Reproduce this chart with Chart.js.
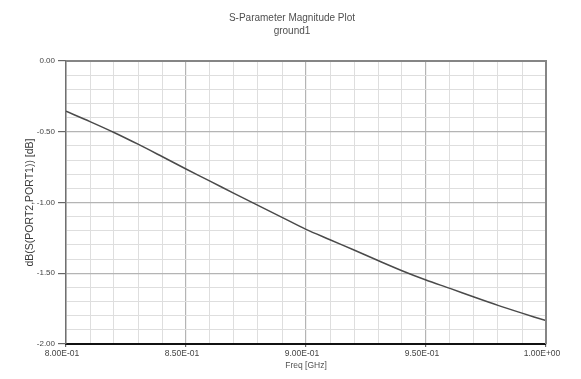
<!DOCTYPE html>
<html>
<head>
<meta charset="utf-8">
<script src="https://cdn.jsdelivr.net/npm/chart.js@4/dist/chart.umd.min.js"></script>
<style>
  html, body { margin: 0; padding: 0; background: #ffffff; }
  #wrap { width: 581px; height: 379px; }
</style>
</head>
<body>
<div id="wrap"><canvas id="c" width="581" height="379"></canvas></div>
<script>
// ---- Data ----
const titleLines = ['S-Parameter Magnitude Plot', 'ground1'];
const xAxisTitle = 'Freq [GHz]';
const yAxisTitle = 'dB(S(PORT2,PORT1)) [dB]';
const freqGHz = [0.80, 0.81, 0.82, 0.83, 0.84, 0.85, 0.86, 0.87, 0.88, 0.89, 0.90,
                 0.91, 0.92, 0.93, 0.94, 0.95, 0.96, 0.97, 0.98, 0.99, 1.00];
const s21dB = [-0.355, -0.428, -0.505, -0.588, -0.675, -0.763, -0.849, -0.935, -1.020, -1.105, -1.190,
               -1.263, -1.336, -1.410, -1.482, -1.548, -1.607, -1.668, -1.727, -1.782, -1.835];
const xMin = 0.80, xMax = 1.00, xStep = 0.01;
const yMin = -2.00, yMax = 0.00, yStep = 0.1;

function sci(v) {
  const s = v.toExponential(2).toUpperCase();
  const parts = s.split('E');
  const sign = parts[1][0] === '-' ? '-' : '+';
  const digits = parts[1].replace(/[+-]/, '').padStart(2, '0');
  return parts[0] + 'E' + sign + digits;
}
const isMajorX = v => Math.round(v * 100) % 5 === 0;
const isMajorY = v => Math.round(v * 10) % 5 === 0;
const FONT = 'Liberation Sans, Arial, sans-serif';

// frame on top/right and the two-line title (positioned like the reference)
const framePlugin = {
  id: 'frame',
  afterDatasetsDraw(chart) {
    const { ctx, chartArea: a } = chart;
    ctx.save();
    ctx.strokeStyle = '#858585';
    ctx.lineWidth = 2;
    ctx.beginPath();
    ctx.moveTo(a.left, a.top);
    ctx.lineTo(a.right, a.top);
    ctx.lineTo(a.right, a.bottom);
    ctx.stroke();
    ctx.restore();
  },
  afterDraw(chart) {
    const { ctx, chartArea: a } = chart;
    ctx.save();
    ctx.fillStyle = '#505050';
    ctx.font = '10px ' + FONT;
    ctx.textAlign = 'center';
    ctx.textBaseline = 'middle';
    const cx = (a.left + a.right) / 2 - 14;
    titleLines.forEach((t, i) => ctx.fillText(t, cx, 18 + i * 13));
    ctx.restore();
  }
};

const data = {
  datasets: [{
    data: freqGHz.map((f, i) => ({ x: f, y: s21dB[i] })),
    borderColor: '#4a4a4a',
    borderWidth: 1.5,
    pointRadius: 0,
    tension: 0.3,
    fill: false
  }]
};

new Chart(document.getElementById('c'), {
  type: 'line',
  data,
  plugins: [framePlugin],
  options: {
    responsive: false,
    animation: false,
    layout: { padding: { top: 61, right: 35, bottom: 0, left: 0 } },
    plugins: {
      legend: { display: false },
      tooltip: { enabled: false },
      title: { display: false }
    },
    scales: {
      x: {
        type: 'linear',
        min: xMin, max: xMax,
        afterFit(s) { s.height = 35; },
        title: {
          display: true, text: xAxisTitle, color: '#505050',
          font: { family: FONT, size: 8.5, lineHeight: 1.2 },
          padding: { top: 0, bottom: 8 }
        },
        border: { display: true, color: '#111111', width: 2 },
        grid: {
          drawOnChartArea: true,
          drawTicks: true,
          tickLength: 3,
          color: ctx => (ctx.tick && isMajorX(ctx.tick.value)) ? '#b4b4b4' : '#dedede',
          tickColor: ctx => (ctx.tick && isMajorX(ctx.tick.value)) ? '#666666' : 'rgba(0,0,0,0)',
          lineWidth: ctx => (ctx.tick && isMajorX(ctx.tick.value)) ? 1.2 : 1
        },
        ticks: {
          stepSize: xStep,
          autoSkip: false,
          maxRotation: 0,
          minRotation: 0,
          padding: 2,
          labelOffset: -4,
          color: '#444444',
          font: { family: FONT, size: 8.5 },
          callback: v => isMajorX(v) ? sci(v) : ''
        }
      },
      y: {
        type: 'linear',
        min: yMin, max: yMax,
        afterFit(s) { s.width = 66; },
        title: {
          display: true, text: yAxisTitle, color: '#3a3a3a',
          font: { family: FONT, size: 10.5, lineHeight: 1.2 },
          padding: { top: 24, bottom: 0 }
        },
        border: { display: true, color: '#707070', width: 1.5 },
        grid: {
          drawOnChartArea: true,
          drawTicks: true,
          tickLength: 8,
          color: ctx => (ctx.tick && isMajorY(ctx.tick.value)) ? '#b4b4b4' : '#dedede',
          tickColor: ctx => (ctx.tick && isMajorY(ctx.tick.value)) ? '#666666' : 'rgba(0,0,0,0)',
          lineWidth: ctx => (ctx.tick && isMajorY(ctx.tick.value)) ? 1.2 : 1
        },
        ticks: {
          stepSize: yStep,
          autoSkip: false,
          padding: 3,
          color: '#444444',
          font: { family: FONT, size: 8 },
          callback: v => isMajorY(v) ? v.toFixed(2) : ''
        }
      }
    }
  }
});
</script>
</body>
</html>
